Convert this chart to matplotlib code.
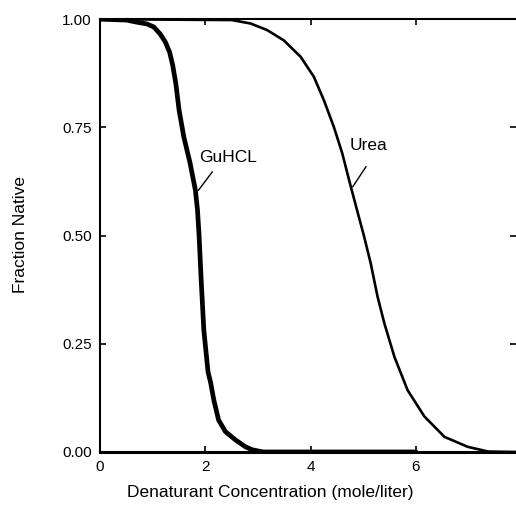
import numpy as np
import matplotlib.pyplot as plt

plt.rcParams['font.family'] = ['Liberation Sans', 'DejaVu Sans']

# Unfolding curves, fraction native vs denaturant concentration (M)
guhcl_conc = [0, 0.5, 0.70, 0.89, 1.02, 1.14, 1.24, 1.32, 1.38, 1.44, 1.50,
              1.59, 1.71, 1.81, 1.85, 1.88, 1.92, 1.97, 2.05, 2.10, 2.16,
              2.25, 2.38, 2.57, 2.76, 2.89, 3.1, 6.0]
guhcl_frac = [1.0, 0.998, 0.993, 0.989, 0.982, 0.966, 0.947, 0.924, 0.893,
              0.85, 0.79, 0.728, 0.667, 0.605, 0.559, 0.50, 0.397, 0.282,
              0.185, 0.160, 0.120, 0.074, 0.047, 0.028, 0.012, 0.005, 0.0,
              0.0]

urea_conc = [0, 2.5, 2.86, 3.17, 3.49, 3.81, 4.06, 4.25, 4.44, 4.60, 4.73,
             4.88, 5.01, 5.14, 5.27, 5.40, 5.59, 5.84, 6.16, 6.54, 6.98,
             7.37, 7.9]
urea_frac = [1.0, 0.998, 0.990, 0.975, 0.951, 0.913, 0.867, 0.813, 0.751,
             0.690, 0.628, 0.559, 0.50, 0.436, 0.359, 0.297, 0.220, 0.143,
             0.082, 0.035, 0.012, 0.001, 0.0]

x_ticks = [0, 2, 4, 6]
y_ticks = [0.0, 0.25, 0.5, 0.75, 1.0]
y_ticklabels = ['0.00', '0.25', '0.50', '0.75', '1.00']

fig = plt.figure(figsize=(5.16, 5.05), dpi=100)
ax = fig.add_axes([0.194, 0.105, 0.806, 0.857])

ax.plot(guhcl_conc, guhcl_frac, color='black', lw=3.4,
        solid_joinstyle='round', solid_capstyle='round')
ax.plot(urea_conc, urea_frac, color='black', lw=1.9, solid_joinstyle='round')

ax.set_xlim(0, 7.9)
ax.set_ylim(0, 1.0)
ax.set_xticks(x_ticks)
ax.set_yticks(y_ticks)
ax.set_yticklabels(y_ticklabels)
ax.tick_params(direction='in', length=4, width=1.2, labelsize=11, pad=6,
               top=True, right=True)

for side in ['left', 'top']:
    ax.spines[side].set_linewidth(1.5)
ax.spines['bottom'].set_linewidth(2.2)
ax.spines['right'].set_visible(False)

# curve labels with short leader lines
ax.text(2.43, 0.680, 'GuHCL', fontsize=12.5, ha='center', va='center')
ax.plot([2.13, 1.87], [0.647, 0.605], color='black', lw=1)
ax.text(5.10, 0.708, 'Urea', fontsize=12.5, ha='center', va='center')
ax.plot([5.05, 4.80], [0.659, 0.613], color='black', lw=1)

fig.text(0.523, 0.024, 'Denaturant Concentration (mole/liter)', fontsize=12.5,
         ha='center', va='center')
fig.text(0.039, 0.535, 'Fraction Native', fontsize=12.5, rotation=90,
         ha='center', va='center')

fig.savefig('out.png', dpi=100)
